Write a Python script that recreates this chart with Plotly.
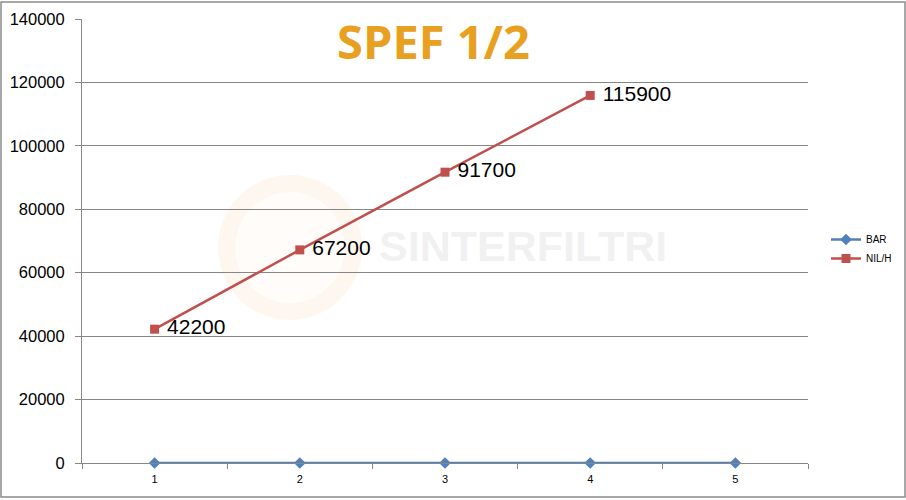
import plotly.graph_objects as go

categories = ["1", "2", "3", "4", "5"]
bar_values = [0, 0, 0, 0, 0]
nil_categories = ["1", "2", "3", "4"]
nil_values = [42200, 67200, 91700, 115900]
y_ticks = [0, 20000, 40000, 60000, 80000, 100000, 120000, 140000]

W, H = 906, 500
L, R, T, B = 82, 98, 19, 37
pw, ph = W - L - R, H - T - B

def px_x(x):
    return (x - L) / pw

def px_y(y):
    return (H - B - y) / ph

fig = go.Figure()
fig.add_trace(go.Scatter(
    x=categories, y=bar_values, name="BAR", mode="lines+markers",
    line=dict(color="#4F81BD", width=2.5),
    marker=dict(symbol="diamond", size=9, color="#4F81BD"),
    cliponaxis=False,
))
fig.add_trace(go.Scatter(
    x=nil_categories, y=nil_values, name="NIL/H", mode="lines+markers+text",
    line=dict(color="#C0504D", width=2.5),
    marker=dict(symbol="square", size=9, color="#C0504D"),
    text=["\u00a0" + str(v) for v in nil_values], textposition="middle right",
    textfont=dict(family="Liberation Sans, Arial", size=21, color="#000000"),
    cliponaxis=False,
))

shapes = [
    dict(type="rect", xref="paper", yref="paper",
         x0=px_x(1), x1=px_x(905), y0=px_y(497), y1=px_y(2),
         line=dict(color="#8C8C8C", width=1.5), layer="below"),
    dict(type="circle", xref="paper", yref="paper",
         x0=px_x(218), x1=px_x(362), y0=px_y(320), y1=px_y(175),
         fillcolor="rgba(250,225,190,0.25)", line=dict(width=0), layer="below"),
    dict(type="circle", xref="paper", yref="paper",
         x0=px_x(235), x1=px_x(345), y0=px_y(303), y1=px_y(192),
         fillcolor="rgba(255,255,255,0.6)", line=dict(width=0), layer="below"),
]

annotations = [
    dict(text="<b>SPEF 1/2</b>", xref="paper", yref="paper",
         x=px_x(433), y=px_y(41), xanchor="center", yanchor="middle",
         showarrow=False,
         font=dict(family="Open Sans, Liberation Sans", size=47, color="#E8A020")),
    dict(text="<b>SINTERFILTRI</b>", xref="paper", yref="paper",
         x=px_x(523), y=px_y(246), xanchor="center", yanchor="middle",
         showarrow=False,
         font=dict(family="Liberation Sans, Arial", size=43, color="rgba(225,225,225,0.45)")),
]

fig.update_layout(
    width=W, height=H,
    margin=dict(l=L, r=R, t=T, b=B, autoexpand=False),
    paper_bgcolor="white", plot_bgcolor="white",
    showlegend=True,
    legend=dict(x=px_x(826), y=px_y(249), xanchor="left", yanchor="middle",
                font=dict(family="Liberation Sans, Arial", size=10, color="#000000"),
                bgcolor="rgba(0,0,0,0)", tracegroupgap=4, itemwidth=30),
    shapes=shapes,
    annotations=annotations,
)
fig.update_xaxes(
    type="category", categoryorder="array", categoryarray=categories,
    range=[-0.5, 4.5], showgrid=False, showline=True, linecolor="#868686", linewidth=1,
    ticks="outside", tickson="boundaries", ticklen=5, tickcolor="#868686",
    ticklabelstandoff=6, automargin=False,
    tickfont=dict(family="Liberation Sans, Arial", size=11, color="#000000"),
    zeroline=False,
)
fig.update_yaxes(
    range=[0, 140000], tickvals=y_ticks, ticktext=[str(v) for v in y_ticks],
    showgrid=True, gridcolor="#868686", gridwidth=1,
    showline=True, linecolor="#868686", linewidth=1,
    ticks="outside", ticklen=6, tickcolor="#868686", ticklabelstandoff=7,
    automargin=False,
    tickfont=dict(family="Liberation Sans, Arial", size=16.5, color="#000000"),
    zeroline=False,
)

fig.write_html("out.html", config={"displayModeBar": False},
               post_script="document.body.style.margin='0';document.body.style.overflow='hidden';")
